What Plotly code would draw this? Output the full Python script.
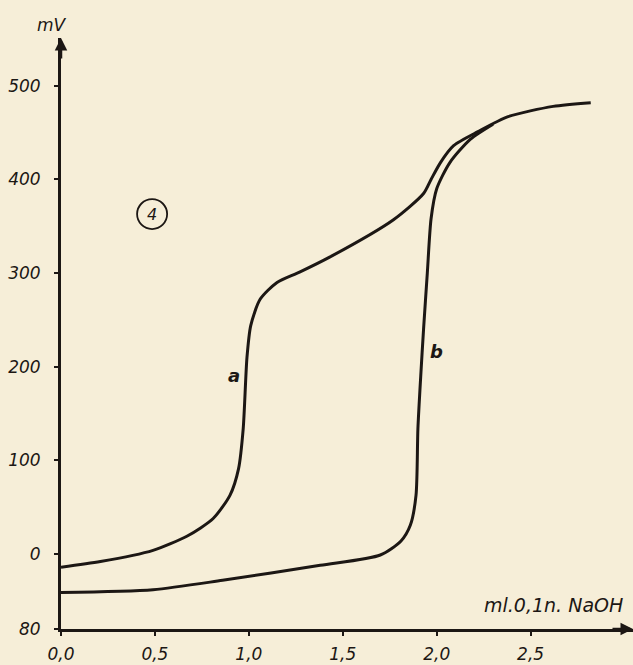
import plotly.graph_objects as go

# Curve a
a_x = [0.0, 0.21, 0.49, 0.67, 0.81, 0.90, 0.945, 0.97, 0.99, 1.01, 1.06, 1.15, 1.27, 1.43, 1.77, 1.93, 1.97, 2.02, 2.09, 2.22, 2.38, 2.62, 2.82]
a_y = [-14, -8, 4, 19, 38, 63, 91, 134, 210, 244, 272, 290, 301, 317, 357, 385, 400, 418, 436, 451, 467, 478, 482]
# Curve b
b_x = [0.0, 0.49, 0.86, 1.38, 1.70, 1.81, 1.86, 1.89, 1.90, 1.915, 1.93, 1.95, 1.97, 2.0, 2.07, 2.18, 2.30]
b_y = [-41, -38, -28, -12, -1, 14, 31, 63, 134, 190, 240, 300, 358, 390, 418, 443, 459]

x_tickvals = [0.0, 0.5, 1.0, 1.5, 2.0, 2.5]
x_ticktext = ["0,0", "0,5", "1,0", "1,5", "2,0", "2,5"]
y_tickvals = [-80, 0, 100, 200, 300, 400, 500]
y_ticktext = ["80", "0", "100", "200", "300", "400", "500"]

ink = "#1c1714"
bg = "#f6eed8"
fnt = "DejaVu Sans"

fig = go.Figure()
fig.add_trace(go.Scatter(x=a_x, y=a_y, mode="lines", line=dict(color=ink, width=3, shape="spline", smoothing=0.7), showlegend=False))
fig.add_trace(go.Scatter(x=b_x, y=b_y, mode="lines", line=dict(color=ink, width=3, shape="spline", smoothing=0.7), showlegend=False))

fig.update_layout(
    width=633, height=665,
    margin=dict(l=61, r=0, t=38, b=36),
    paper_bgcolor=bg, plot_bgcolor=bg,
    xaxis=dict(range=[0, 3.045], showgrid=False, zeroline=False, showline=True, linecolor=ink, linewidth=3,
               tickvals=x_tickvals, ticktext=x_ticktext, ticks="outside", ticklen=4, tickwidth=2, tickcolor=ink,
               ticklabelstandoff=4,
               tickfont=dict(family=fnt, size=17, color=ink, style="italic")),
    yaxis=dict(range=[-80, 551], showgrid=False, zeroline=False, showline=True, linecolor=ink, linewidth=3,
               tickvals=y_tickvals, ticktext=y_ticktext, ticks="outside", ticklen=4, tickwidth=2, tickcolor=ink,
               ticklabelstandoff=10,
               tickfont=dict(family=fnt, size=17, color=ink, style="italic")),
    annotations=[
        dict(x=3.045, y=-80, xref="x", yref="y", ax=-22, ay=0, text="", showarrow=True,
             arrowhead=2, arrowsize=1, arrowwidth=2.5, arrowcolor=ink),
        dict(x=0, y=551, xref="x", yref="y", ax=0, ay=22, text="", showarrow=True,
             arrowhead=2, arrowsize=1, arrowwidth=2.5, arrowcolor=ink),
        dict(x=-0.016, y=1.022, xref="paper", yref="paper", xanchor="center", yanchor="middle",
             text="mV", showarrow=False,
             font=dict(family=fnt, size=17, color=ink, style="italic")),
        dict(x=2.62, y=-54, xref="x", yref="y", text="ml.0,1n. NaOH", showarrow=False,
             font=dict(family=fnt, size=19, color=ink, style="italic")),
        dict(x=0.92, y=191, xref="x", yref="y", text="<b>a</b>", showarrow=False,
             font=dict(family=fnt, size=18, color=ink, style="italic")),
        dict(x=2.0, y=216, xref="x", yref="y", text="<b>b</b>", showarrow=False,
             font=dict(family=fnt, size=18, color=ink, style="italic")),
        dict(x=0.485, y=363, xref="x", yref="y", text="4", showarrow=False,
             font=dict(family=fnt, size=16, color=ink, style="italic")),
    ],
    shapes=[
        dict(type="circle", xref="x", yref="y", x0=0.485 - 0.08, x1=0.485 + 0.08, y0=363 - 16, y1=363 + 16,
             line=dict(color=ink, width=1.8)),
    ],
)

fig.write_html("out.html", config={"displayModeBar": False},
               post_script="document.body.style.margin='0';document.body.style.background='%s';" % bg)
